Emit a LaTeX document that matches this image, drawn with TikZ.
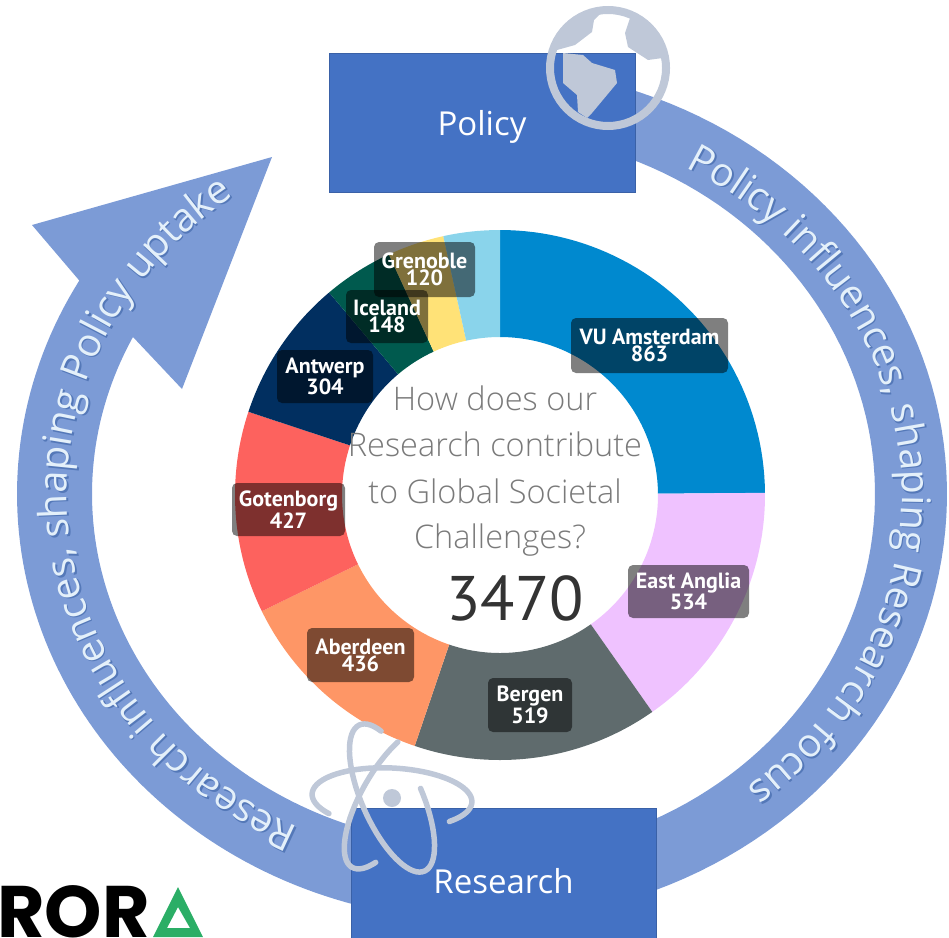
\documentclass[tikz,border=0pt]{standalone}
\usepackage{fontspec}
\setmainfont{Open Sans}
\newfontfamily\lightfont{Open Sans Light}
\newfontfamily\labfont{PT Sans}
\newfontfamily\logofont{Poppins}
\usetikzlibrary{decorations.text}
\definecolor{boxblue}{HTML}{4472C4}
\definecolor{ringblue}{HTML}{7C9BD6}
\definecolor{icongray}{HTML}{BFC8D8}
\definecolor{ringtxt}{HTML}{E4F0FA}
\definecolor{ringshadow}{HTML}{5478B8}
\definecolor{logogreen}{HTML}{2BAE66}
\definecolor{centergray}{HTML}{7A7A7A}
\definecolor{segA}{HTML}{0089CF}
\definecolor{segB}{HTML}{EFC2FF}
\definecolor{segC}{HTML}{5F6B6D}
\definecolor{segD}{HTML}{FE9666}
\definecolor{segE}{HTML}{FD625E}
\definecolor{segF}{HTML}{012F60}
\definecolor{segG}{HTML}{005A4E}
\definecolor{segH}{HTML}{FFE277}
\definecolor{segI}{HTML}{8AD4EB}
\newcommand\donutseg[3]{\fill[#3] plot[domain=#1:#2,samples=50] ({500+265*cos(\x)},{495+265*sin(\x)}) -- plot[domain=#2:#1,samples=50] ({500+158*cos(\x)},{495+158*sin(\x)}) -- cycle;}
\newcommand\atomarc[3]{\draw[iconline] plot[domain=#2:#3,samples=60] ({392+80*cos(\x)*cos(#1)-30*sin(\x)*sin(#1)},{798+80*cos(\x)*sin(#1)+30*sin(\x)*cos(#1)});}
\newcommand\ringfontA{\fontsize{39.5}{40}\selectfont\color{ringtxt}}
\newcommand\ringfontB{\fontsize{39.5}{40}\selectfont\color{ringshadow}}
\tikzset{
  mainbox/.style={rectangle,fill=boxblue,draw=boxblue!85!black,line width=.6pt,text=white,font=\fontsize{33}{33}\selectfont,inner sep=0pt},
  iconline/.style={draw=icongray,line width=5.5pt,line cap=round},
  lab/.style={rectangle,rounded corners=5pt,fill=black,fill opacity=.5,text opacity=1,text=white,align=center,inner sep=0pt,font=\labfont\bfseries\fontsize{22}{17}\selectfont},
  centertext/.style={text=centergray,font=\lightfont\fontsize{32.5}{33}\selectfont,inner sep=0pt}
}
\begin{document}
\begin{tikzpicture}[x=1pt,y=-1pt]
\useasboundingbox (0,0) rectangle (949,937);
% ring, right band
\fill[ringblue] plot[domain=-78:78,samples=80] ({482+465*cos(\x)},{494+427*sin(\x)})
  -- plot[domain=76:-76,samples=80] ({482+393*cos(\x)},{494+362*sin(\x)}) -- cycle;
% ring, left band with arrow head
\fill[ringblue] plot[domain=103:210,samples=80] ({482+465*cos(\x)},{494+427*sin(\x)})
  -- (32,225) -- (272,157) -- (182,389) -- (133,337)
  -- plot[domain=206:105,samples=80] ({482+390*cos(\x)},{494+352*sin(\x)}) -- cycle;
% ring texts
\path[decorate,decoration={text along path,text align=center,text={|\ringfontB|Policy influences, shaping Research focus}}]
  plot[domain=-63.5:53.5,samples=120] ({483.5+420*cos(\x)},{497.5+376*sin(\x)});
\path[decorate,decoration={text along path,text align=center,text={|\ringfontA|Policy influences, shaping Research focus}}]
  plot[domain=-63.5:53.5,samples=120] ({482+420*cos(\x)},{496+376*sin(\x)});
\path[decorate,decoration={text along path,text align=center,text={|\ringfontB|Research influences, shaping Policy uptake}}]
  plot[domain=112.8:236.8,samples=120] ({483.5+415*cos(\x)},{495.5+372*sin(\x)});
\path[decorate,decoration={text along path,text align=center,text={|\ringfontA|Research influences, shaping Policy uptake}}]
  plot[domain=112.8:236.8,samples=120] ({482+415*cos(\x)},{494+372*sin(\x)});
% boxes
\node[mainbox,minimum width=306pt,minimum height=139pt] (policy) at (482,122.5) {\raisebox{-13pt}[0pt][0pt]{Policy}};
\node[mainbox,minimum width=305pt,minimum height=146pt] (research) at (503.5,881) {Research};
% donut
\donutseg{-90}{-0.47}{segA}
\donutseg{-0.47}{54.93}{segB}
\donutseg{54.93}{108.77}{segC}
\donutseg{108.77}{154}{segD}
\donutseg{154}{198.3}{segE}
\donutseg{198.3}{229.84}{segF}
\donutseg{229.84}{245.19}{segG}
\donutseg{245.19}{257.64}{segH}
\donutseg{257.64}{270}{segI}
% labels
\node[lab,minimum width=157pt,minimum height=55pt] (lvu) at (649.5,345.5) {VU Amsterdam\\863};
\node[lab,minimum width=121pt,minimum height=53pt] (lea) at (688.5,591.5) {East Anglia\\534};
\node[lab,minimum width=84pt,minimum height=54pt] (lbe) at (530,705) {Bergen\\519};
\node[lab,minimum width=107pt,minimum height=54pt] (lab) at (360.5,655) {Aberdeen\\436};
\node[lab,minimum width=113pt,minimum height=53pt] (lgo) at (288.5,509.5) {Gotenborg\\427};
\node[lab,minimum width=96pt,minimum height=53pt] (lan) at (325,376.5) {Antwerp\\304};
\node[lab,minimum width=82pt,minimum height=53pt] (lic) at (387,316.5) {Iceland\\148};
\node[lab,minimum width=101pt,minimum height=55pt] (lgr) at (424.5,269.5) {Grenoble\\120};
% centre text
\node[centertext] (c1) at (495,398) {How does our};
\node[centertext] (c2) at (495,444) {Research contribute};
\node[centertext] (c3) at (495,491) {to Global Societal};
\node[centertext] (c4) at (500,540) {Challenges?};
\node[text=black!80,inner sep=0pt,font=\labfont\fontsize{63}{63}\selectfont] (total) at (515,598) {3470};
% globe
\begin{scope}
\clip (608,68) circle (60);
\fill[icongray] (557,50) -- (575,45) -- (592,32) -- (594,20) -- (602,12) -- (600,0) -- (540,0) -- (540,50) -- cycle;
\fill[icongray] (632,12) -- (625,33) -- (628,47) -- (648,60) -- (670,57) -- (670,0) -- (632,0) -- cycle;
\fill[icongray] (563,53) -- (583,55) -- (592,63) -- (615,70) -- (617,83) -- (592,113) -- (587,118) -- (578,112) -- (577,95) -- (563,83) -- cycle;
\end{scope}
\draw[icongray,line width=8pt] (608,68) circle (58);
% atom
\atomarc{3}{-219}{43}
\atomarc{66}{-88}{215}
\atomarc{-60}{-217}{-50}
\fill[icongray] (392,798) circle (9);
% logo
\node[anchor=base east,inner sep=0pt,font=\logofont\bfseries\fontsize{73}{73}\selectfont] (logo) at (150,937) {ROR};
\fill[logogreen,even odd rule] (153,937) -- (178,887) -- (203,937) -- cycle (167,928) -- (178,907) -- (190,928) -- cycle;
\end{tikzpicture}
\end{document}
